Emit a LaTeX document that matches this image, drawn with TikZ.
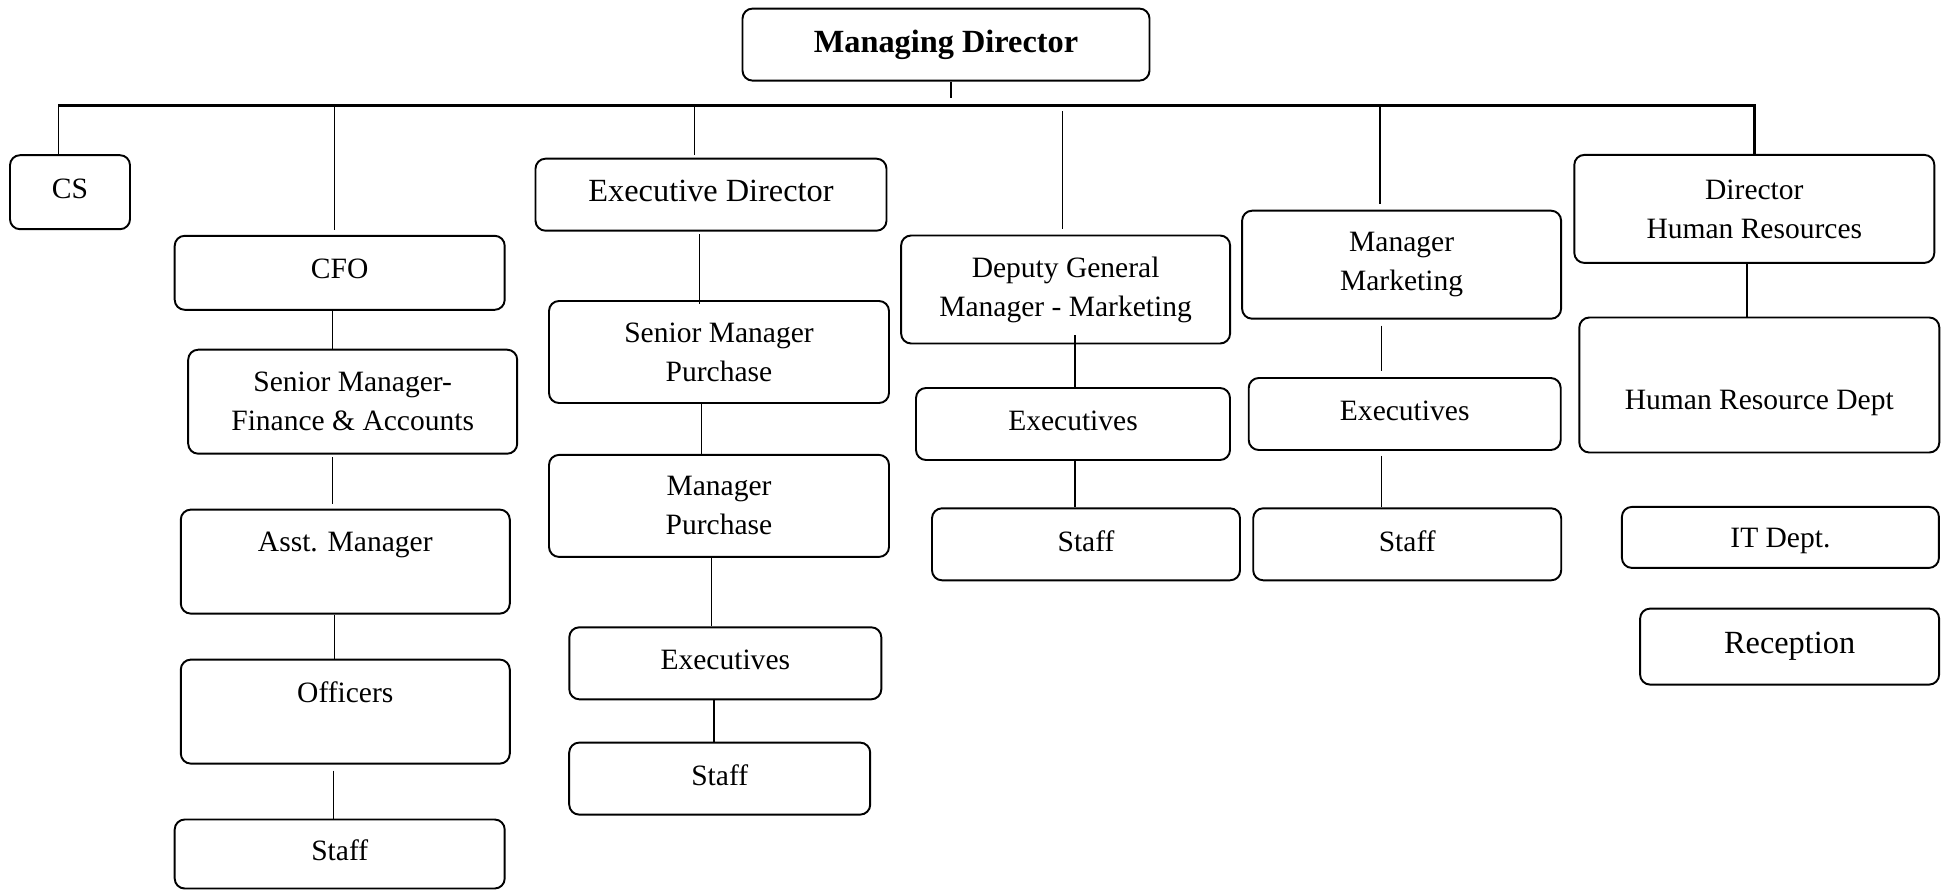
\documentclass[tikz,border=0pt]{standalone}
\usepackage{fontspec}
\setmainfont{Liberation Serif}

\begin{document}
\begin{tikzpicture}[
        x=0.1mm, y=-0.1mm,
        box/.style={rectangle, draw, rounded corners=1mm, line width=0.55pt, align=center, inner sep=0pt, font=\fontsize{8.4}{11.1}\selectfont},
        bigtext/.style={font=\fontsize{9.2}{11}\selectfont},
        oneline/.style={text depth=2.1pt},
        boxsize/.style 2 args={minimum width=#1mm, minimum height=#2mm},
        link/.style={line width=0.35pt},
        bus/.style={line width=0.75pt}
    ]
        \useasboundingbox (0,0) rectangle (1944,891);

        % Top
        \node[box, boxsize={40.7}{7.2}, font=\fontsize{9.2}{11}\selectfont\bfseries] (md) at (946,44.6) {Managing Director};

        % Second level
        \node[box, oneline, boxsize={12.0}{7.4}] (cs) at (70,192.2) {CS};
        \node[box, oneline, boxsize={33.0}{7.4}] (cfo) at (339.7,272.8) {CFO};
        \node[box, bigtext, oneline, boxsize={35.1}{7.2}] (ed) at (711,194.7) {Executive Director};
        \node[box, boxsize={32.9}{10.8}] (dgm) at (1065.6,289.5) {Deputy General\\Manager - Marketing};
        \node[box, boxsize={31.9}{10.8}] (mm) at (1401.6,264.7) {Manager\\Marketing};
        \node[box, boxsize={36.0}{10.8}] (dhr) at (1754.3,208.9) {Director\\Human Resources};

        % Finance column
        \node[box, boxsize={32.9}{10.4}] (smfa) at (352.7,401.7) {Senior Manager-\\Finance \& Accounts};
        \node[box, boxsize={32.9}{10.4}] (asst) at (345.3,561.6) {Asst. Manager\\~};
        \node[box, boxsize={32.9}{10.4}] (off) at (345.3,711.6) {Officers\\~};
        \node[box, oneline, boxsize={33.0}{6.9}] (staffa) at (339.7,854) {Staff};

        % Purchase column
        \node[box, boxsize={34.0}{10.2}] (smp) at (719,352) {Senior Manager\\Purchase};
        \node[box, boxsize={34.0}{10.2}] (mp) at (719,505.9) {Manager\\Purchase};
        \node[box, oneline, boxsize={31.2}{7.2}] (exa) at (725.3,663.3) {Executives};
        \node[box, oneline, boxsize={30.1}{7.2}] (staffb) at (719.7,778.6) {Staff};

        % Marketing columns
        \node[box, oneline, boxsize={31.4}{7.2}] (exb) at (1073,424) {Executives};
        \node[box, oneline, boxsize={30.8}{7.2}] (staffc) at (1086,544.3) {Staff};
        \node[box, oneline, boxsize={31.2}{7.2}] (exc) at (1404.7,414) {Executives};
        \node[box, oneline, boxsize={30.8}{7.2}] (staffd) at (1407.2,544.3) {Staff};

        % HR column
        \node[box, text height=16pt, boxsize={36.0}{13.5}] (hrd) at (1759.3,385) {Human Resource Dept};
        \node[box, text depth=0pt, boxsize={31.7}{6.1}] (it) at (1780.4,537.4) {IT Dept.};
        \node[box, bigtext, boxsize={29.9}{7.6}] (recep) at (1789.6,646.6) {Reception};

        % Bus under the MD
        \coordinate (busL) at (58.3,105.4);
        \coordinate (busR) at (1754.3,105.4);
        \coordinate (mdstub) at (950.9,98);
        \draw[link] (mdstub |- md.south) -- (mdstub);
        \draw[bus] (busL) -- (busR) -- (dhr.north);

        % Drops to second level
        \draw[link] (busL) -- (busL |- cs.north);
        \draw[link, shorten >=0.5mm] (334.7,0 |- busL) -- (334.7,0 |- cfo.north);
        \draw[link, shorten >=0.25mm] (694.3,0 |- busL) -- (694.3,0 |- ed.north);
        \draw[link, shorten <=0.6mm, shorten >=0.6mm] (1062.5,0 |- busL) -- (1062.5,0 |- dgm.north);
        \draw[link, shorten >=0.6mm] (1379.9,0 |- busL) -- (1379.9,0 |- mm.north);

        % Finance links
        \draw[link] (332.3,0 |- cfo.south) -- (332.3,0 |- smfa.north);
        \draw[link, shorten <=0.25mm, shorten >=0.45mm] (332.3,0 |- smfa.south) -- (332.3,0 |- asst.north);
        \draw[link] (334.7,0 |- asst.south) -- (334.7,0 |- off.north);
        \draw[link, shorten <=0.6mm] (333.5,0 |- off.south) -- (333.5,0 |- staffa.north);

        % Purchase links
        \draw[link, shorten <=0.25mm, shorten >=-0.4mm] (699.2,0 |- ed.south) -- (699.2,0 |- smp.north);
        \draw[link] (701.7,0 |- smp.south) -- (701.7,0 |- mp.north);
        \draw[link] (711.6,0 |- mp.south) -- (711.6,0 |- exa.north);
        \draw[link] (714.1,0 |- exa.south) -- (714.1,0 |- staffb.north);

        % Marketing links
        \draw[link, shorten <=-0.9mm] (1074.9,0 |- dgm.south) -- (1074.9,0 |- exb.north);
        \draw[link] (1074.9,0 |- exb.south) -- (1074.9,0 |- staffc.north);
        \draw[link, shorten <=0.6mm, shorten >=0.6mm] (1381.1,0 |- mm.south) -- (1381.1,0 |- exc.north);
        \draw[link, shorten <=0.5mm] (1381.1,0 |- exc.south) -- (1381.1,0 |- staffd.north);

        % HR link
        \draw[link] (1746.9,0 |- dhr.south) -- (1746.9,0 |- hrd.north);
\end{tikzpicture}
\end{document}
